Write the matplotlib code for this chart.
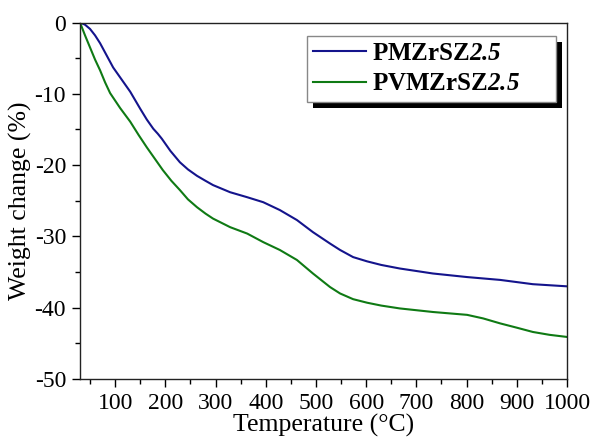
import matplotlib
matplotlib.use("Agg")
import matplotlib.pyplot as plt
from matplotlib.ticker import MultipleLocator
from matplotlib.patches import Rectangle
from matplotlib.transforms import IdentityTransform

plt.rcParams['font.family'] = ['Liberation Serif', 'DejaVu Serif']
plt.rcParams['axes.unicode_minus'] = False
plt.rcParams['mathtext.fontset'] = 'custom'
plt.rcParams['mathtext.rm'] = 'Liberation Serif'
plt.rcParams['mathtext.bf'] = 'Liberation Serif:bold'
plt.rcParams['mathtext.it'] = 'Liberation Serif:italic'
plt.rcParams['mathtext.bfit'] = 'Liberation Serif:bold:italic'

temp_blue = [30, 40, 50, 60, 70, 83, 96, 113, 130, 150, 163, 170, 176, 185, 193, 210, 229, 245, 263, 280, 295,
             329, 363, 395, 428, 462, 494, 528, 548, 574, 602, 630, 667, 733, 801, 867, 932, 1000]
wt_blue = [0, -0.3, -0.9, -1.8, -2.9, -4.6, -6.3, -8.0, -9.7, -12.1, -13.6, -14.3, -14.9, -15.6, -16.3, -18.0,
           -19.6, -20.6, -21.5, -22.2, -22.8, -23.8, -24.5, -25.2, -26.3, -27.7, -29.4, -31.0, -31.9, -32.9,
           -33.5, -34.0, -34.5, -35.2, -35.7, -36.1, -36.7, -37.0]

temp_green = [30, 40, 50, 60, 70, 80, 90, 110, 130, 147, 163, 180, 195, 212, 229, 245, 263, 280, 295, 329, 363,
              395, 428, 462, 494, 528, 548, 574, 602, 630, 667, 733, 801, 833, 867, 900, 932, 965, 1000]
wt_green = [0, -1.8, -3.5, -5.2, -6.7, -8.4, -9.9, -12.0, -13.9, -15.8, -17.5, -19.2, -20.7, -22.2, -23.5,
            -24.8, -25.9, -26.8, -27.5, -28.7, -29.6, -30.8, -31.9, -33.3, -35.2, -37.1, -38.0, -38.8, -39.3,
            -39.7, -40.1, -40.6, -41.0, -41.5, -42.2, -42.8, -43.4, -43.8, -44.1]

labels = [r'PMZrSZ$\mathbfit{2.5}$', r'PVMZrSZ$\mathbfit{2.5}$']

fig = plt.figure(figsize=(5.9, 4.42), dpi=100)
ax = fig.add_axes([0.1356, 0.1425, 0.961 - 0.1356, 0.949 - 0.1425])

ax.plot(temp_blue, wt_blue, color='#14148c', lw=1.5, label=labels[0])
ax.plot(temp_green, wt_green, color='#0f7a14', lw=1.5, label=labels[1])

ax.set_xlim(30, 1000)
ax.set_ylim(-50, 0)
ax.xaxis.set_major_locator(MultipleLocator(100))
ax.xaxis.set_minor_locator(MultipleLocator(50))
ax.yaxis.set_major_locator(MultipleLocator(10))
ax.yaxis.set_minor_locator(MultipleLocator(5))
ax.tick_params(which='major', direction='out', length=6, width=1, labelsize=17, pad=4)
ax.tick_params(which='minor', direction='out', length=3.5, width=1)
for s in ax.spines.values():
    s.set_linewidth(1.0)
    s.set_color('#222222')

ax.set_xlabel('Temperature (°C)', fontsize=18.5, labelpad=0)
ax.set_ylabel('Weight change (%)', fontsize=18.5, labelpad=2)

x0, x1 = 0.466, 0.977
y0, y1 = 0.79, 0.9636
leg = ax.legend(loc='upper left', bbox_to_anchor=(x0, y0, x1 - x0, y1 - y0), mode='expand',
                borderaxespad=0, fancybox=False, edgecolor='#888888', framealpha=1, shadow=False,
                prop={'size': 18, 'weight': 'bold'}, handlelength=2.1,
                handletextpad=0.25, labelspacing=0.3, borderpad=0.25)
leg.get_frame().set_linewidth(1.0)
leg.set_zorder(6)

fig.canvas.draw()
bb = leg.get_frame().get_window_extent()
shadow = Rectangle((bb.x0 + 6, bb.y0 - 6), bb.width, bb.height, transform=IdentityTransform(),
                   facecolor='black', edgecolor='none', zorder=5.5, clip_on=False)
ax.add_artist(shadow)

fig.savefig('out.png', dpi=100)
